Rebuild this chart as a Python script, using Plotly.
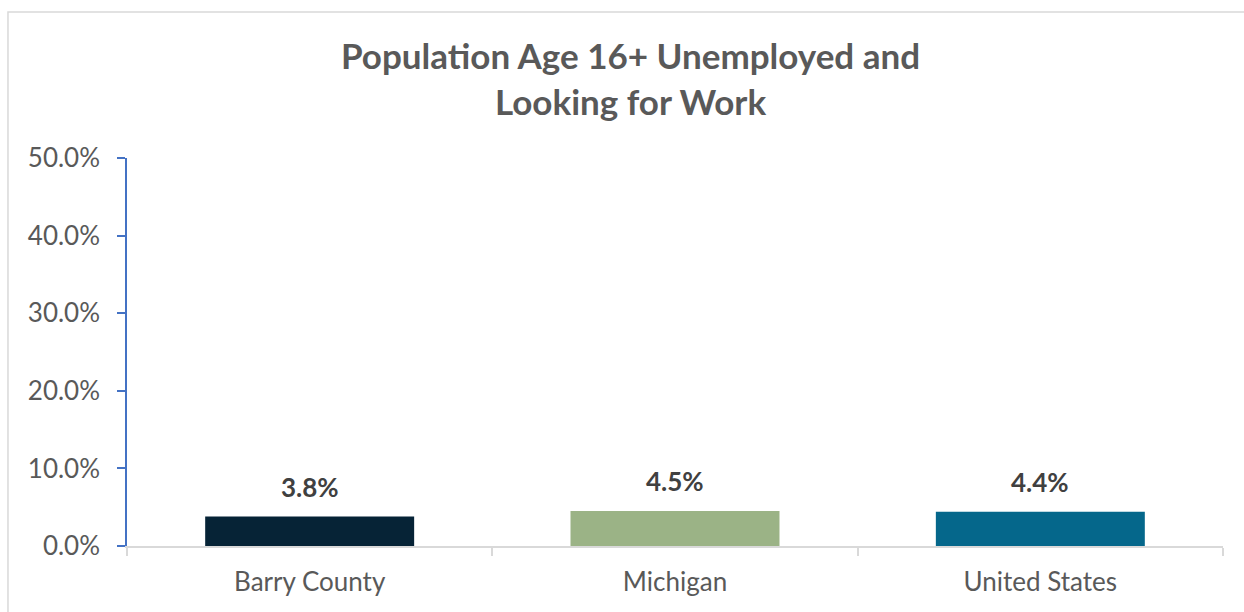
import plotly.graph_objects as go

categories = ["Barry County", "Michigan", "United States"]
unemployed_pct = [3.8, 4.5, 4.4]
bar_colors = ["#062336", "#9bb386", "#05678b"]
y_ticks = [0, 10, 20, 30, 40, 50]
y_tick_labels = [f"{v:.1f}%" for v in y_ticks]

FONT = "Lato"

fig = go.Figure(
    go.Bar(
        x=categories,
        y=unemployed_pct,
        marker=dict(color=bar_colors, line=dict(width=0)),
        width=0.572,
        hoverinfo="skip",
    )
)

# value labels above each bar
for cat, val in zip(categories, unemployed_pct):
    fig.add_annotation(
        x=cat, y=val, text=f"<b>{val:.1f}%</b>",
        showarrow=False, yanchor="middle", yshift=30,
        font=dict(family=FONT, size=26, color="#404040"),
    )

# chart title
fig.add_annotation(
    xref="paper", yref="paper", x=0.459, y=1.206,
    text="<b>Population Age 16+ Unemployed and<br>Looking for Work</b>",
    showarrow=False, xanchor="center", yanchor="middle",
    font=dict(family=FONT, size=35, color="#595959"),
)

# outer chart frame
fig.add_shape(
    type="rect", xref="paper", yref="paper",
    x0=-0.1086, y0=-0.3, x1=1.1, y1=1.3763,
    line=dict(color="#d9d9d9", width=1.5), fillcolor="rgba(0,0,0,0)",
    layer="below",
)

fig.update_layout(
    width=1244, height=612,
    margin=dict(l=127, r=21, t=158, b=66),
    paper_bgcolor="white", plot_bgcolor="white",
    showlegend=False,
    font=dict(family=FONT, size=26, color="#595959"),
    xaxis=dict(
        showline=True, linecolor="#d9d9d9", linewidth=1.5,
        ticks="outside", tickson="boundaries", ticklen=8, tickcolor="#d9d9d9",
        tickwidth=1.5, showgrid=False, zeroline=False,
        ticklabelstandoff=12,
        tickfont=dict(family=FONT, size=26, color="#595959"),
    ),
    yaxis=dict(
        range=[0, 50], tickvals=y_ticks, ticktext=y_tick_labels,
        showline=True, linecolor="#4472c4", linewidth=1.5,
        ticks="outside", ticklen=8, tickcolor="#4472c4", tickwidth=1.5,
        showgrid=False, zeroline=False,
        ticklabelstandoff=12,
        tickfont=dict(family=FONT, size=26, color="#595959"),
    ),
)

fig.write_html("out.html")
